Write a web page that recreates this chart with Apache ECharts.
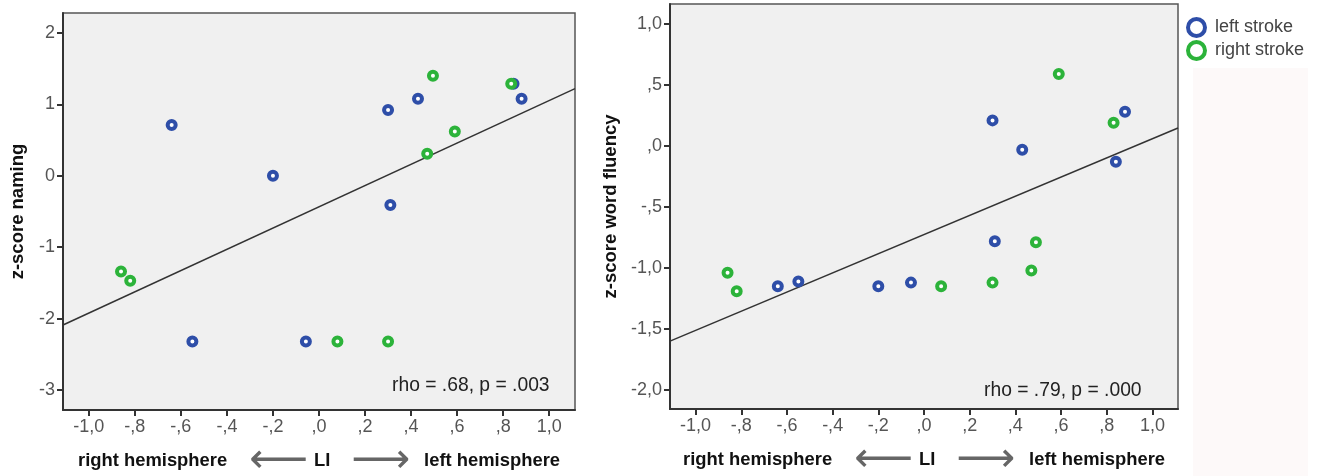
<!DOCTYPE html>
<html>
<head>
<meta charset="utf-8">
<script src="https://cdn.jsdelivr.net/npm/echarts@6/dist/echarts.min.js"></script>
<style>
  html, body { margin: 0; padding: 0; background: #fff; }
  #chart { width: 1323px; height: 476px; }
</style>
</head>
<body>
<div id="chart"></div>
<script>
// laterality index (LI) and z-scores
const namingLeftLI = [-0.64, -0.2, -0.55, -0.057, 0.3, 0.43, 0.31, 0.845, 0.88];
const namingLeftZ = [0.71, 0, -2.32, -2.32, 0.92, 1.08, -0.41, 1.29, 1.08];
const namingRightLI = [-0.86, -0.82, 0.08, 0.3, 0.495, 0.47, 0.59, 0.835];
const namingRightZ = [-1.34, -1.47, -2.32, -2.32, 1.40, 0.31, 0.62, 1.29];

const fluencyLeftLI = [-0.64, -0.55, -0.2, -0.057, 0.3, 0.43, 0.31, 0.84, 0.88];
const fluencyLeftZ = [-1.15, -1.11, -1.15, -1.12, 0.21, -0.03, -0.78, -0.13, 0.28];
const fluencyRightLI = [-0.86, -0.82, 0.075, 0.3, 0.47, 0.49, 0.59, 0.83];
const fluencyRightZ = [-1.04, -1.19, -1.15, -1.12, -1.02, -0.79, 0.59, 0.19];

// fit line ends (LI, z)
const namingFit = [[-1.112, -2.09], [1.112, 1.22]];
const fluencyFit = [[-1.112, -1.60], [1.112, 0.148]];

// ticks
const xTickValues = [-1, -0.8, -0.6, -0.4, -0.2, 0, 0.2, 0.4, 0.6, 0.8, 1];
const xTickLabels = ['-1,0', '-,8', '-,6', '-,4', '-,2', ',0', ',2', ',4', ',6', ',8', '1,0'];
const namingTickValues = [-3, -2, -1, 0, 1, 2];
const namingTickLabels = ['-3', '-2', '-1', '0', '1', '2'];
const fluencyTickValues = [-2, -1.5, -1, -0.5, 0, 0.5, 1];
const fluencyTickLabels = ['-2,0', '-1,5', '-1,0', '-,5', ',0', ',5', '1,0'];

const stats = ['rho = .68, p = .003', 'rho = .79, p = .000'];

const BLUE = '#2e4ea8';
const GREEN = '#2cb33a';
const FONT = '"Liberation Sans", Arial, sans-serif';

const zip = (a, b) => a.map((v, i) => [v, b[i]]);

const myChart = echarts.init(document.getElementById('chart'));

const titleText = { fontSize: 18.4, fontWeight: 'bold', color: '#111', fontFamily: FONT, lineHeight: 22 };

const makeX = (gridIndex) => ({
  type: 'value',
  gridIndex,
  min: -1.112,
  max: 1.112,
  splitLine: { show: false },
  axisLine: { onZero: false, lineStyle: { color: '#333', width: 2 } },
  axisTick: { customValues: xTickValues, length: 6, lineStyle: { color: '#333', width: 2 } },
  axisLabel: {
    customValues: xTickValues,
    formatter: v => xTickLabels[xTickValues.indexOf(v)],
    color: '#555', fontSize: 18, fontFamily: FONT, margin: 8
  },
  name: '{b|right hemisphere}{a|⟵}{l|LI}{a|⟶}{r|left hemisphere}',
  nameLocation: 'middle',
  nameGap: 38,
  nameTextStyle: {
    lineHeight: 22,
    rich: {
      b: Object.assign({ padding: [0, 22, 0, 0] }, titleText),
      l: Object.assign({ padding: [0, 21, 0, 6] }, titleText),
      r: Object.assign({ padding: [0, 0, 0, 14] }, titleText),
      a: { fontSize: 41, lineHeight: 22, color: '#666', fontFamily: 'DejaVu Sans' }
    }
  }
});

const makeY = (gridIndex, min, max, vals, labels, name, gap) => ({
  type: 'value',
  gridIndex,
  min, max,
  splitLine: { show: false },
  axisLine: { show: true, onZero: false, lineStyle: { color: '#333', width: 2 } },
  axisTick: { show: true, customValues: vals, length: 6, lineStyle: { color: '#333', width: 2 } },
  axisLabel: {
    customValues: vals,
    formatter: v => labels[vals.indexOf(v)],
    color: '#555', fontSize: 18, fontFamily: FONT, margin: 8
  },
  name,
  nameLocation: 'middle',
  nameGap: gap,
  nameTextStyle: { fontSize: 18.5, fontWeight: 'bold', color: '#111', fontFamily: FONT }
});

const dots = (name, color, data, idx) => ({
  name,
  type: 'scatter',
  xAxisIndex: idx, yAxisIndex: idx,
  data,
  symbol: 'circle',
  symbolSize: 8,
  itemStyle: { color: '#fff', borderColor: color, borderWidth: 4, opacity: 1 },
  z: 3
});

const fit = (data, idx) => ({
  type: 'line',
  xAxisIndex: idx, yAxisIndex: idx,
  data,
  symbol: 'none',
  lineStyle: { color: '#333', width: 1.5 },
  silent: true,
  z: 2
});

const options = {
  animation: false,
  backgroundColor: '#fff',
  grid: [
    { left: 63, top: 13, width: 512, height: 397, outerBoundsMode: 'none', show: true, backgroundColor: '#f0f0f0', borderColor: '#555', borderWidth: 1.5 },
    { left: 670, top: 4, width: 508, height: 405, outerBoundsMode: 'none', show: true, backgroundColor: '#f0f0f0', borderColor: '#555', borderWidth: 1.5 }
  ],
  xAxis: [makeX(0), makeX(1)],
  yAxis: [
    makeY(0, -3.28, 2.28, namingTickValues, namingTickLabels, 'z-score naming', 36),
    makeY(1, -2.156, 1.164, fluencyTickValues, fluencyTickLabels, 'z-score word fluency', 50)
  ],
  legend: {
    data: ['left stroke', 'right stroke'],
    orient: 'vertical',
    left: 1181,
    top: 12,
    itemWidth: 17,
    itemHeight: 17,
    itemGap: 2,
    icon: 'circle',
    itemStyle: { color: '#fff', borderWidth: 4 },
    textStyle: { color: '#444', fontSize: 18, lineHeight: 18, fontFamily: FONT, padding: [0, 0, 0, 5] }
  },
  graphic: [
    { type: 'rect', left: 1193, top: 68, shape: { width: 115, height: 408 }, style: { fill: '#fdf9f9' }, z: -10 },
    { type: 'text', left: 392, top: 376, style: { text: stats[0], fill: '#222', fontSize: 19.3, fontFamily: FONT } },
    { type: 'text', left: 984, top: 381, style: { text: stats[1], fill: '#222', fontSize: 19.3, fontFamily: FONT } }
  ],
  series: [
    fit(namingFit, 0),
    dots('left stroke', BLUE, zip(namingLeftLI, namingLeftZ), 0),
    dots('right stroke', GREEN, zip(namingRightLI, namingRightZ), 0),
    fit(fluencyFit, 1),
    dots('left stroke', BLUE, zip(fluencyLeftLI, fluencyLeftZ), 1),
    dots('right stroke', GREEN, zip(fluencyRightLI, fluencyRightZ), 1)
  ]
};
myChart.setOption(options);
</script>
</body>
</html>
